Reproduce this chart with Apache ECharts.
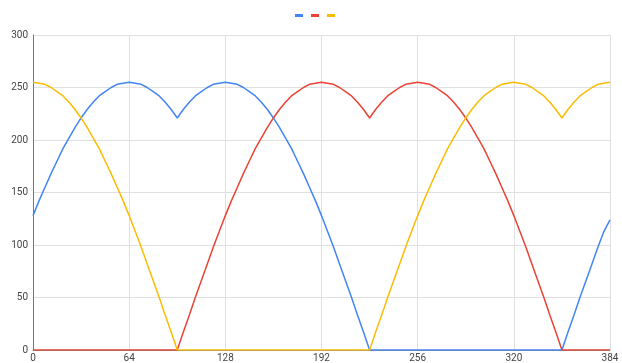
<!DOCTYPE html>
<html>
<head>
<meta charset="utf-8">
<script src="https://cdn.jsdelivr.net/npm/echarts@6/dist/echarts.min.js"></script>
<style>
html,body{margin:0;padding:0;background:#fff;}
#c{width:622px;height:363px;}
</style>
</head>
<body>
<div id="c"></div>
<script>
// x positions (step 4 from 0 to 384)
var xValues = [0,4,8,12,16,20,24,28,32,36,40,44,48,52,56,60,64,68,72,76,80,84,88,92,96,100,104,108,112,116,120,124,128,132,136,140,144,148,152,156,160,164,168,172,176,180,184,188,192,196,200,204,208,212,216,220,224,228,232,236,240,244,248,252,256,260,264,268,272,276,280,284,288,292,296,300,304,308,312,316,320,324,328,332,336,340,344,348,352,356,360,364,368,372,376,380,384];
var blueValues = [128,142,155,168,180,192,202,212,221,229,236,242,246,250,253,254,255,254,253,250,246,242,236,229,221,229,236,242,246,250,253,254,255,254,253,250,246,242,236,229,221,212,202,192,180,168,155,142,128,113,98,82,66,50,33,17,0,
  0,0,0,0,0,0,0,0,0,0,0,0,0,0,0,0,0,0,0,0,0,0,0,0,0,0,0,0,0,0,0,0,
  17,33,50,66,82,98,113,124];
var redValues = [0,0,0,0,0,0,0,0,0,0,0,0,0,0,0,0,0,0,0,0,0,0,0,0,
  0,17,33,50,66,82,98,113,128,142,155,168,180,192,202,212,221,229,236,242,246,250,253,254,255,254,253,250,246,242,236,229,221,229,236,242,246,250,253,254,255,254,253,250,246,242,236,229,221,212,202,192,180,168,155,142,128,113,98,82,66,50,33,17,0,
  0,0,0,0,0,0,0,0];
var yellowValues = [255,254,253,250,246,242,236,229,221,212,202,192,180,168,155,142,128,113,98,82,66,50,33,17,0,
  0,0,0,0,0,0,0,0,0,0,0,0,0,0,0,0,0,0,0,0,0,0,0,0,0,0,0,0,0,0,0,
  0,17,33,50,66,82,98,113,128,142,155,168,180,192,202,212,221,229,236,242,246,250,253,254,255,254,253,250,246,242,236,229,221,229,236,242,246,250,253,254,255];
var seriesNames = ['blue','red','yellow'];
var seriesColors = ['#4285F4','#EA4335','#FBBC04'];
var xTicks = [0,64,128,192,256,320,384];
var yTicks = [0,50,100,150,200,250,300];

function pairs(vals){ return xValues.map(function(x,i){ return [x, vals[i]]; }); }
var allVals = [blueValues, redValues, yellowValues];

var chart = echarts.init(document.getElementById('c'), null, {renderer:'canvas'});
chart.setOption({
  animation:false,
  color: seriesColors,
  legend:{
    top: 9, left: 290,
    icon:'rect', itemWidth:8, itemHeight:3, itemGap:8,
    formatter: function(){ return ''; },
    data: seriesNames
  },
  grid:{left:33,right:12,top:35,bottom:11,containLabel:false},
  xAxis:{
    type:'value', min:xTicks[0], max:xTicks[xTicks.length-1], interval:64,
    axisLine:{show:true,lineStyle:{color:'#888',width:1}},
    axisTick:{show:false},
    axisLabel:{color:'#444',fontSize:10,fontFamily:'Roboto, Arial, sans-serif',margin:3},
    splitLine:{show:true,lineStyle:{color:'#e0e0e0',width:1}}
  },
  yAxis:{
    type:'value', min:yTicks[0], max:yTicks[yTicks.length-1], interval:50,
    axisLine:{show:true,lineStyle:{color:'#777',width:1}},
    axisTick:{show:false},
    axisLabel:{color:'#444',fontSize:10,fontFamily:'Roboto, Arial, sans-serif',margin:5},
    splitLine:{show:true,lineStyle:{color:'#e0e0e0',width:1}}
  },
  series: seriesNames.map(function(n,i){
    return {
      name:n, type:'line', data:pairs(allVals[i]),
      showSymbol:false, symbol:'none',
      lineStyle:{width:1.5,color:seriesColors[i]},
      itemStyle:{color:seriesColors[i]}
    };
  })
});
</script>
</body>
</html>
